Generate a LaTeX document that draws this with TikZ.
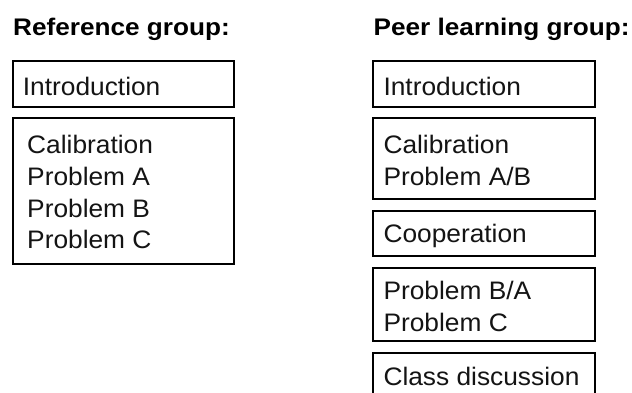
\documentclass[tikz,border=0pt]{standalone}
\usepackage{fontspec}
\setmainfont{Liberation Sans}
\newfontfamily\bodyfont[FakeStretch=1.04]{Liberation Sans}
\newfontfamily\titlefont[FakeStretch=1.09]{Liberation Sans}[BoldFont={Liberation Sans Bold}]
\begin{document}
\begin{tikzpicture}[x=1pt,y=-1pt,
  box/.style={draw=black, line width=2pt, inner sep=0pt},
  txt/.style={anchor=base west, inner sep=0pt, font=\bodyfont\fontsize{25.3}{30}\selectfont, text=black!92},
  ttl/.style={anchor=base west, inner sep=0pt, font=\titlefont\bfseries\fontsize{24}{28}\selectfont, text=black}]
\useasboundingbox[fill=white] (0,0) rectangle (632,392);
% titles
\node[ttl] (t1) at (13,35) {Reference group:};
\node[ttl] (t2) at (373.5,35) {Peer learning group:};
% left boxes
\draw[box] (12.5,61) rectangle (234,107) node[pos=0.5] (l1) {};
\draw[box] (12.5,118) rectangle (234,263.5) node[pos=0.5] (l2) {};
\node[txt] (l1a) at (22.7,95) {Introduction};
\node[txt] (l2a) at (27,153) {Calibration};
\node[txt] (l2b) at (27,185) {Problem A};
\node[txt] (l2c) at (27,217) {Problem B};
\node[txt] (l2d) at (27,248.5) {Problem C};
% right boxes
\draw[box] (373,61) rectangle (595,107) node[pos=0.5] (r1) {};
\draw[box] (373,118) rectangle (595,199) node[pos=0.5] (r2) {};
\draw[box] (373,211) rectangle (595,256) node[pos=0.5] (r3) {};
\draw[box] (373,268) rectangle (595,341) node[pos=0.5] (r4) {};
\draw[box] (373,353) rectangle (595,402) node[pos=0.5] (r5) {};
\node[txt] (r1a) at (383.3,95) {Introduction};
\node[txt] (r2a) at (383.3,153) {Calibration};
\node[txt] (r2b) at (383.3,185) {Problem A/B};
\node[txt] (r3a) at (383.3,242.7) {Cooperation};
\node[txt] (r4a) at (383.3,299.3) {Problem B/A};
\node[txt] (r4b) at (383.3,331.7) {Problem C};
\node[txt] (r5a) at (383.3,385) {Class discussion};
\end{tikzpicture}
\end{document}
